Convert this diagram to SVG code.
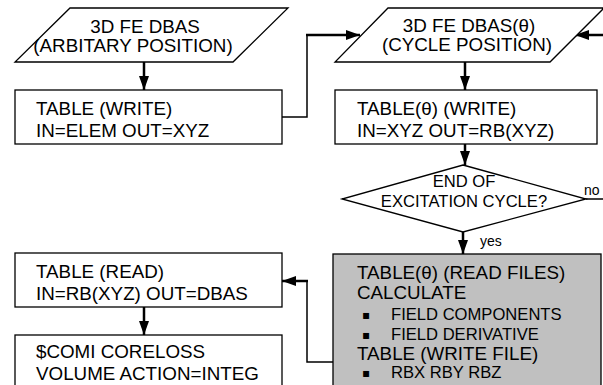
<svg xmlns="http://www.w3.org/2000/svg" width="603" height="385" viewBox="0 0 603 385">
<defs>
<marker id="ah" viewBox="0 0 14 10" markerWidth="14" markerHeight="10" refX="14" refY="5" orient="auto" markerUnits="userSpaceOnUse">
<path d="M0,0 L14,5 L0,10 z" fill="#000"/>
</marker>
<style>
.shape{fill:#fff;stroke:#000;stroke-width:1.3}
.gray{fill:#c0c0c0;stroke:#000;stroke-width:1.3}
.t{font-family:"Liberation Sans",Arial,sans-serif;font-size:18.8px;fill:#000}
.m{text-anchor:middle}
.s{font-size:16.6px}
.xs{font-size:14px}
.bul{font-family:"DejaVu Sans","Liberation Sans",sans-serif;font-size:12px;fill:#000}
.thin{fill:none;stroke:#000;stroke-width:1.5}
.arr{fill:none;stroke:#000;stroke-width:2.5;marker-end:url(#ah)}
</style>
</defs>
<rect width="603" height="385" fill="#fff"/>
<g id="connectors">
<path class="arr" d="M144,62 V90"/>
<path class="thin" d="M282,117 H307 V35"/>
<path class="arr" d="M306,35 H360"/>
<path class="arr" d="M465,62 V90"/>
<path class="arr" d="M465,144 V165"/>
<path class="thin" d="M586,199 H608 V35"/>
<path class="arr" d="M609,35 H575"/>
<path class="arr" d="M463,232 V254"/>
<path class="thin" d="M333,362 H307 V281"/>
<path class="arr" d="M308,281 H282"/>
<path class="arr" d="M144,307 V335"/>
<text class="t xs" x="584" y="195">no</text>
<text class="t xs" x="480" y="246">yes</text>
</g>
<g id="dbas-arbitrary">
<polygon class="shape" points="70,8 288,8 233,62 15,62"/>
<text class="t m" x="145" y="33">3D FE DBAS</text>
<text class="t m" x="133" y="52">(ARBITARY POSITION)</text>
</g>
<g id="table-write">
<rect class="shape" x="15" y="90" width="267" height="54"/>
<text class="t" x="36" y="115">TABLE (WRITE)</text>
<text class="t" x="36" y="137">IN=ELEM OUT=XYZ</text>
</g>
<g id="dbas-cycle">
<polygon class="shape" points="388,8 604,8 550,62 335,62"/>
<text class="t m" x="469" y="32">3D FE DBAS(θ)</text>
<text class="t m" x="467" y="51">(CYCLE POSITION)</text>
</g>
<g id="table-theta-write">
<rect class="shape" x="335" y="90" width="262" height="54"/>
<text class="t" x="357" y="115">TABLE(θ) (WRITE)</text>
<text class="t" x="357" y="137">IN=XYZ OUT=RB(XYZ)</text>
</g>
<g id="decision">
<polygon class="shape" points="463,165 586,199 463,232 342,199"/>
<text class="t s m" x="464" y="187">END OF</text>
<text class="t s m" x="464" y="207">EXCITATION CYCLE?</text>
</g>
<g id="table-theta-read">
<rect class="gray" x="333" y="254" width="268" height="140"/>
<text class="t" x="357" y="279">TABLE(θ) (READ FILES)</text>
<text class="t" x="357" y="299">CALCULATE</text>
<text class="bul" x="362" y="319">▪</text>
<text class="t s" x="391" y="320">FIELD COMPONENTS</text>
<text class="bul" x="362" y="339">▪</text>
<text class="t s" x="391" y="340">FIELD DERIVATIVE</text>
<text class="t" x="357" y="360">TABLE (WRITE FILE)</text>
<text class="bul" x="362" y="377">▪</text>
<text class="t s" x="391" y="378">RBX RBY RBZ</text>
</g>
<g id="table-read">
<rect class="shape" x="15" y="253" width="267" height="54"/>
<text class="t" x="36" y="278">TABLE (READ)</text>
<text class="t" x="36" y="300">IN=RB(XYZ) OUT=DBAS</text>
</g>
<g id="comi-coreloss">
<rect class="shape" x="15" y="335" width="267" height="60"/>
<text class="t" x="36" y="358">$COMI CORELOSS</text>
<text class="t" x="36" y="380">VOLUME ACTION=INTEG</text>
</g>
</svg>
